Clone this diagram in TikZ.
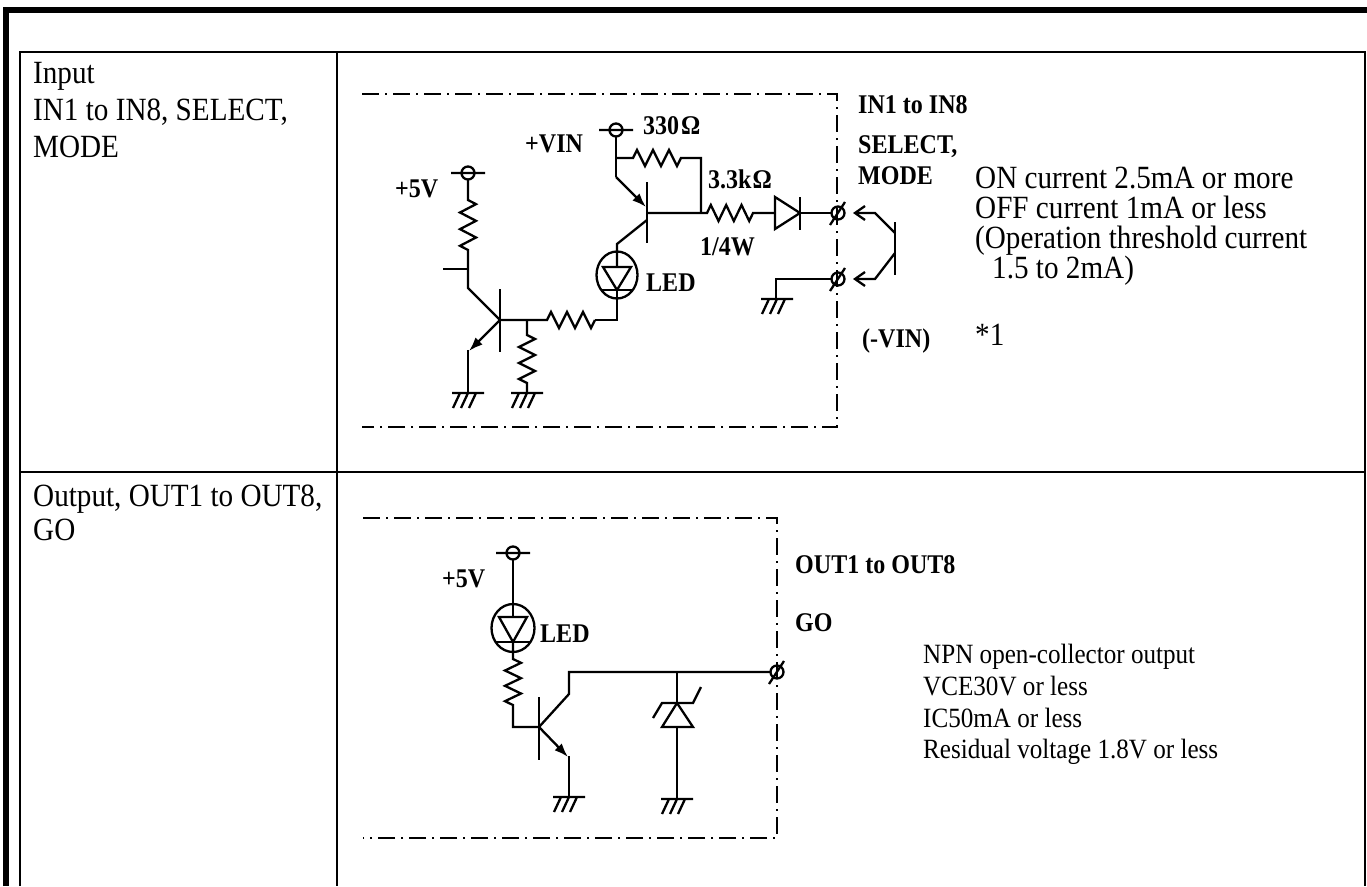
\documentclass[tikz,border=0pt]{standalone}
\usepackage{fontspec}
\usetikzlibrary{arrows.meta}
\newfontfamily\txtfont{Liberation Serif}[FakeStretch=0.9]
\newfontfamily\lblfont{Liberation Serif}[FakeStretch=0.89]
\newcommand\rzh[2]{-- ++({0.5*#1},{-#2}) -- ++(#1,{2*#2}) -- ++(#1,{-2*#2}) -- ++(#1,{2*#2}) -- ++(#1,{-2*#2}) -- ++(#1,{2*#2}) -- ++({0.5*#1},{-#2})}
\newcommand\rzv[2]{-- ++({#2},{0.5*#1}) -- ++({-2*#2},#1) -- ++({2*#2},#1) -- ++({-2*#2},#1) -- ++({2*#2},#1) -- ++({-2*#2},#1) -- ++({#2},{0.5*#1})}
\tikzset{
  wire/.style={line width=2.3pt, line join=miter},
  frame/.style={line width=2.5pt},
  dashdot/.style={line width=2pt, dash pattern=on 17pt off 6pt on 2pt off 6pt},
  txt/.style={inner sep=0pt, anchor=base west, font=\txtfont\fontsize{32.4}{36}\selectfont},
  txts/.style={inner sep=0pt, anchor=base west, font=\txtfont\fontsize{27.9}{31}\selectfont},
  lbl/.style={inner sep=0pt, anchor=base west, font=\lblfont\bfseries\fontsize{27}{30}\selectfont},
  gnd/.pic={\draw[wire] (-16,0) -- (16,0) (-8,0) -- (-15,15) (0,0) -- (-7,15) (8,0) -- (1,15);},
  term/.pic={\draw[wire] (0,0) circle[radius=6.5]; \draw[wire] (-8,12) -- (7,-11);},
  supply/.pic={\draw[wire] (0,0) circle[radius=6.5] (-17,0) -- (17,0);},
  arr/.style={-{Latex[length=14pt,width=10pt]}},
  barb/.style={-{Straight Barb[length=10pt,width=14pt]}}
}
\begin{document}
\begin{tikzpicture}[x=1pt,y=-1pt]
\useasboundingbox (0,0) rectangle (1367,886);
\clip (0,0) rectangle (1367,886);
\fill[white] (0,0) rectangle (1367,886);
% outer border
\draw[line width=6pt] (6,886) -- (6,10) -- (1367,10);
% table
\draw[frame] (20,886) -- (20,52) -- (1365,52) -- (1365,886);
\draw[frame] (337,52) -- (337,886);
\draw[frame] (20,472) -- (1365,472);
% left column texts
\node[txt] (t1) at (33,83) {Input};
\node[txt] (t2) at (33,120) {IN1 to IN8, SELECT,};
\node[txt] (t3) at (33,157) {MODE};
\node[txt] (t4) at (33,506) {Output, OUT1 to OUT8,};
\node[txt] (t5) at (33,540) {GO};
% ---------------- input circuit ----------------
\draw[dashdot] (362,94) -- (837,94) -- (837,427) -- (362,427);
% +VIN supply and PNP
\pic at (616,130) {supply};
\draw[wire] (616,136.5) -- (616,177);
\draw[wire] (616,158) -- (633,158) \rzh{8}{8} -- (701,158) -- (701,213);
\draw[wire] (647,182) -- (647,243);
\draw[wire,arr] (616,177) -- (646,207);
\draw[wire] (647,213) -- (707,213) \rzh{7.67}{8} -- (775,213);
\draw[wire] (775,197) -- (800,213) -- (775,229) -- cycle;
\draw[wire] (800,197) -- (800,230);
\draw[wire] (800,213) -- (831.5,213);
\pic at (838,213) {term};
% collector to LED
\draw[wire] (647,220) -- (617,244) -- (617,267);
\draw[wire] (617,275) ellipse[x radius=20.5, y radius=23.5];
\draw[wire] (603,267) -- (631,267) -- (617,290) -- cycle;
\draw[wire] (601,290) -- (633,290);
\draw[wire] (617,290) -- (617,320) -- (595,320);
% base resistor and NPN
\draw[wire] (500,320) -- (547,320) \rzh{8}{8} -- (595,320);
\pic at (468,173) {supply};
\draw[wire] (468,179.5) -- (468,200) \rzv{8.33}{8} -- (468,288) -- (500,320);
\draw[wire] (443,269) -- (468,269);
\draw[wire] (500,289) -- (500,352);
\draw[wire,arr] (500,320) -- (469,351);
\draw[wire] (468,350) -- (468,393);
\pic at (468,393) {gnd};
\draw[wire] (527,320) -- (527,335) \rzv{8}{8} -- (527,393);
\pic at (527,393) {gnd};
% lower terminal and ground
\pic at (838,279) {term};
\draw[wire] (831.5,279) -- (776,279) -- (776,299);
\pic at (777,299) {gnd};
% external switch
\draw[wire,barb] (895,233) -- (875,213) -- (853,213);
\draw[wire] (895,222) -- (895,275);
\draw[wire,barb] (895,253) -- (875,279) -- (853,279);
% input labels
\node[lbl] (l1) at (525,152) {+VIN};
\node[lbl] (l2) at (643,134) {330\kern2pt Ω};
\node[lbl] (l3) at (395,197) {+5V};
\node[lbl] (l4) at (708,188) {3.3k\kern1pt Ω};
\node[lbl] (l5) at (700,255) {1/4W};
\node[lbl] (l6) at (646,291) {LED};
\node[lbl] (l7) at (858,113) {IN1 to IN8};
\node[lbl] (l8) at (858,153) {SELECT,};
\node[lbl] (l9) at (858,184) {MODE};
\node[lbl] (l10) at (862,347) {(-VIN)};
% input right text
\node[txt] (r1) at (975,188) {ON current 2.5mA or more};
\node[txt] (r2) at (975,218) {OFF current 1mA or less};
\node[txt] (r3) at (975,248) {(Operation threshold current};
\node[txt] (r4) at (992,278) {1.5 to 2mA)};
\node[txt] (r5) at (975,345) {*1};
% ---------------- output circuit ----------------
\draw[dashdot] (363,518) -- (777,518) -- (777,838) -- (363,838);
\pic at (513,553) {supply};
\draw[wire] (513,559.5) -- (513,617);
\draw[wire] (513,628) ellipse[x radius=21.5, y radius=24];
\draw[wire] (499,617) -- (527,617) -- (513,642) -- cycle;
\draw[wire] (496,642) -- (530,642);
\draw[wire] (513,642) -- (513,659) \rzv{7.67}{8} -- (513,727) -- (539,727);
\draw[wire] (539,697) -- (539,760);
\draw[wire] (539,727) -- (569,694) -- (569,672) -- (770.5,672);
\draw[wire,arr] (539,727) -- (568,757);
\draw[wire] (569,756) -- (569,797);
\pic at (569,797) {gnd};
\pic at (777,672) {term};
% zener
\draw[wire] (677,672) -- (677,703);
\draw[wire] (653,718) -- (662,703) -- (693,703) -- (701,687);
\draw[wire] (677,703) -- (662,727) -- (693,727) -- cycle;
\draw[wire] (677,727) -- (677,799);
\pic at (677,799) {gnd};
% output labels
\node[lbl] (o1) at (442,587) {+5V};
\node[lbl] (o2) at (540,642) {LED};
\node[lbl] (o3) at (795,573) {OUT1 to OUT8};
\node[lbl] (o4) at (795,631) {GO};
\node[txts] (s1) at (923,663) {NPN open-collector output};
\node[txts] (s2) at (923,695) {VCE30V or less};
\node[txts] (s3) at (923,727) {IC50mA or less};
\node[txts] (s4) at (923,758) {Residual voltage 1.8V or less};
\end{tikzpicture}
\end{document}
